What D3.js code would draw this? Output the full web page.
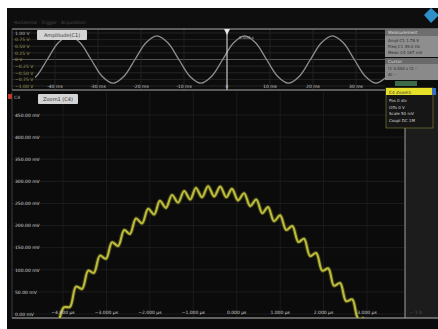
<!DOCTYPE html>
<meta charset="utf-8">
<style>
body { margin: 0; background: #fff; }
svg { display: block; font-family: "DejaVu Sans", sans-serif; }
</style>
<svg width="438" height="329"></svg>
<script src="https://cdn.jsdelivr.net/npm/d3@7"></script>
<script>

// overview (C1) – time in ms, amplitude in V
var overviewTicks = [-40, -30, -20, -10, 0, 10, 20, 30];
var overviewLevels = [1, 0.75, 0.5, 0.25, 0, -0.25, -0.5, -0.75, -1];
var overviewTime = [-46.9, -44.35, -41.8, -39.25, -36.7, -34.15, -31.6, -29.05, -26.5, -23.95,
  -21.4, -18.85, -16.3, -13.75, -11.2, -8.65, -6.1, -3.55, -1.0, 1.55, 4.1, 6.65, 9.2,
  11.75, 14.3, 16.85, 19.4, 21.95, 24.5, 27.05, 29.6, 32.15, 34.7, 37.25];
var overviewAmp = [-0.89, -0.63, 0, 0.63, 0.89, 0.63, 0, -0.63, -0.89, -0.63,
  0, 0.63, 0.89, 0.63, 0, -0.63, -0.89, -0.63, 0, 0.63, 0.89, 0.63, 0,
  -0.63, -0.89, -0.63, 0, 0.63, 0.89, 0.63, 0, -0.63, -0.89, -0.63];

// zoom window (C4) – time in µs, level in mV
var zoomTicks = [-4, -3, -2, -1, 0, 1, 2, 3];
var zoomLevels = [450, 400, 350, 300, 250, 200, 150, 100, 50, 0];
var zoomTime = [-4.12, -3.98, -3.84, -3.70, -3.56, -3.42, -3.29, -3.15, -3.01, -2.87,
  -2.73, -2.59, -2.46, -2.32, -2.18, -2.04, -1.90, -1.77, -1.63, -1.49,
  -1.35, -1.21, -1.07, -0.94, -0.80, -0.66, -0.52, -0.38, -0.24, -0.11,
  0.03, 0.17, 0.31, 0.45, 0.59, 0.72, 0.86, 1.00, 1.14, 1.28,
  1.42, 1.55, 1.69, 1.83, 1.97, 2.11, 2.24, 2.38, 2.52, 2.66, 2.80, 2.94];
var zoomMv = [-34, 15, 16, 62, 57, 98, 93, 132, 125, 162,
  154, 190, 181, 216, 205, 238, 225, 256, 240, 269,
  252, 278, 259, 285, 264, 289, 266, 288, 264, 283,
  257, 273, 244, 259, 228, 242, 210, 223, 190, 199,
  163, 170, 131, 138, 98, 103, 64, 70, 29, 33, -11, -9];

var svg = d3.select("svg");

svg.append("rect").attr("x", 7).attr("y", 8).attr("width", 431).attr("height", 321).attr("fill", "#0b0b0b");
svg.append("rect").attr("x", 7).attr("y", 8).attr("width", 431).attr("height", 20).attr("fill", "#0e0e0e");
svg.append("text").attr("x", 14).attr("y", 24).attr("font-size", 4.5).attr("fill", "#4a4a4a")
  .text("Horizontal  ·  Trigger  ·  Acquisition");
svg.append("path").attr("d", "M431,8 L439,15 L431,23 L424,15 Z").attr("fill", "#2f8fc8");

// ---------- overview panel ----------
var xTop = d3.scaleLinear().domain([-40, 30]).range([55, 356]);
var yTop = d3.scaleLinear().domain([-1, 1]).range([86, 33]);

var overview = svg.append("g");
overview.append("rect").attr("x", 12).attr("y", 29).attr("width", 373).attr("height", 61).attr("fill", "#0c0c0c");

overview.selectAll(".hg").data(overviewLevels).enter().append("line")
  .attr("x1", 12).attr("x2", 385)
  .attr("y1", d => yTop(d)).attr("y2", d => yTop(d))
  .attr("stroke", d => d === 0 ? "#6a6a6a" : "#2c2c2c").attr("stroke-width", 0.8);
overview.selectAll(".vg").data(overviewTicks).enter().append("line")
  .attr("x1", d => xTop(d)).attr("x2", d => xTop(d))
  .attr("y1", 29).attr("y2", 90)
  .attr("stroke", "#262626").attr("stroke-width", 0.8);
overview.append("line").attr("x1", 12).attr("x2", 438).attr("y1", 29).attr("y2", 29).attr("stroke", "#b0b0b0").attr("stroke-width", 1);
overview.append("line").attr("x1", 12).attr("x2", 385).attr("y1", 90).attr("y2", 90).attr("stroke", "#a8a8a8").attr("stroke-width", 1);
overview.append("line").attr("x1", 12).attr("x2", 12).attr("y1", 29).attr("y2", 90).attr("stroke", "#555").attr("stroke-width", 0.8);

svg.append("clipPath").attr("id", "clipTop").append("rect")
  .attr("x", 35).attr("y", 29).attr("width", 350).attr("height", 61);

var overviewPts = overviewTime.map((t, i) => [t, overviewAmp[i]]);
overview.append("path").datum(overviewPts)
  .attr("clip-path", "url(#clipTop)")
  .attr("fill", "none").attr("stroke", "#8e8e8e").attr("stroke-width", 1.3)
  .attr("d", d3.line().x(d => xTop(d[0])).y(d => yTop(d[1])).curve(d3.curveCatmullRom));

overview.selectAll(".yl").data(overviewLevels).enter().append("text")
  .attr("x", 15).attr("y", d => yTop(d) + 1.8)
  .attr("font-size", 4.5).attr("fill", d => d === 1 ? "#bdbdbd" : "#9a9a52")
  .text(d => d === 0 ? "0 V" : d3.format(".2f")(d) + " V");

overview.selectAll(".xl").data(overviewTicks).enter().append("text")
  .attr("x", d => xTop(d)).attr("y", 88).attr("text-anchor", "middle")
  .attr("font-size", 4.5).attr("fill", "#c8c8c8")
  .text(d => d === 0 ? "0" : d + " ms");

overview.append("rect").attr("x", 37).attr("y", 30).attr("width", 50).attr("height", 10).attr("rx", 1).attr("fill", "#d4d4d4");
overview.append("text").attr("x", 62).attr("y", 37).attr("text-anchor", "middle").attr("font-size", 5).attr("fill", "#333").text("Amplitude(C1)");

// cursor at t = 0
overview.append("line").attr("x1", xTop(0)).attr("x2", xTop(0)).attr("y1", 30).attr("y2", 90).attr("stroke", "#e0e0e0").attr("stroke-width", 1);
overview.append("path").attr("d", `M${xTop(0) - 3},29 L${xTop(0) + 3},29 L${xTop(0)},35 Z`).attr("fill", "#e8e8e8");
overview.append("text").attr("x", xTop(0) + 12).attr("y", 39).attr("font-size", 4).attr("fill", "#bbb").text("0.000 s");

// measurement side panel
var side = svg.append("g");
side.append("rect").attr("x", 385).attr("y", 29).attr("width", 53).attr("height", 7).attr("fill", "#6e6e6e");
side.append("text").attr("x", 388).attr("y", 34).attr("font-size", 4.3).attr("fill", "#ddd").text("Measurement");
side.append("rect").attr("x", 385).attr("y", 36).attr("width", 53).attr("height", 21).attr("fill", "#8e8e8e");
["Ampl  C1   1.78 V", "Freq  C1   49.0 Hz", "Mean  C4   187 mV"].forEach(function (s, i) {
  side.append("text").attr("x", 388).attr("y", 42 + i * 6).attr("font-size", 4).attr("fill", "#2a2a2a").text(s);
});
side.append("rect").attr("x", 385).attr("y", 58).attr("width", 53).attr("height", 6).attr("fill", "#6a6a6a");
side.append("text").attr("x", 388).attr("y", 62.5).attr("font-size", 4.3).attr("fill", "#ddd").text("Cursor");
side.append("rect").attr("x", 385).attr("y", 64).attr("width", 53).attr("height", 16).attr("fill", "#8a8a8a");
["t1  0.000 s   t2  --", "Δt  --"].forEach(function (s, i) {
  side.append("text").attr("x", 388).attr("y", 70 + i * 6).attr("font-size", 4).attr("fill", "#2a2a2a").text(s);
});
side.append("rect").attr("x", 395).attr("y", 81).attr("width", 22).attr("height", 5).attr("fill", "#3c6a4a");

// ---------- zoom panel ----------
var xZoom = d3.scaleLinear().domain([-4, 3]).range([63, 367]);
var yZoom = d3.scaleLinear().domain([0, 450]).range([314, 115]);

var bot = svg.append("g");
bot.append("rect").attr("x", 405).attr("y", 92).attr("width", 33).attr("height", 226).attr("fill", "#1c1c1c");

bot.selectAll(".hg").data(zoomLevels).enter().append("line")
  .attr("x1", 12).attr("x2", 405)
  .attr("y1", d => yZoom(d)).attr("y2", d => yZoom(d))
  .attr("stroke", "#222").attr("stroke-width", 0.8);
bot.selectAll(".vg").data(zoomTicks).enter().append("line")
  .attr("x1", d => xZoom(d)).attr("x2", d => xZoom(d))
  .attr("y1", 92).attr("y2", 318)
  .attr("stroke", "#1f1f1f").attr("stroke-width", 0.8);
bot.append("line").attr("x1", 12).attr("x2", 12).attr("y1", 92).attr("y2", 318).attr("stroke", "#4a4a4a").attr("stroke-width", 0.8);
bot.append("line").attr("x1", 405).attr("x2", 405).attr("y1", 90).attr("y2", 318).attr("stroke", "#a0a0a0").attr("stroke-width", 1);
bot.append("line").attr("x1", 12).attr("x2", 438).attr("y1", 318).attr("y2", 318).attr("stroke", "#b8b8b8").attr("stroke-width", 1);

svg.append("clipPath").attr("id", "clipZoom").append("rect")
  .attr("x", 12).attr("y", 92).attr("width", 393).attr("height", 226);

var zoomPts = zoomTime.map((t, i) => [t, zoomMv[i]]);
var zline = d3.line().x(d => xZoom(d[0])).y(d => yZoom(d[1])).curve(d3.curveCatmullRom);
bot.append("path").datum(zoomPts).attr("clip-path", "url(#clipZoom)")
  .attr("fill", "none").attr("stroke", "#6f6f22").attr("stroke-width", 4.2).attr("stroke-opacity", 0.5)
  .attr("stroke-linejoin", "round").attr("d", zline);
bot.append("path").datum(zoomPts).attr("clip-path", "url(#clipZoom)")
  .attr("fill", "none").attr("stroke", "#bcbc3c").attr("stroke-width", 2.1)
  .attr("stroke-linejoin", "round").attr("d", zline);

bot.selectAll(".yl").data(zoomLevels).enter().append("text")
  .attr("x", 15).attr("y", d => yZoom(d) + 1.8)
  .attr("font-size", 4.5).attr("fill", "#cfcfcf")
  .text(d => d3.format(".2f")(d) + " mV");

bot.selectAll(".xl").data(zoomTicks).enter().append("text")
  .attr("x", d => xZoom(d)).attr("y", 314).attr("text-anchor", "middle")
  .attr("font-size", 4.5).attr("fill", "#cfcfcf")
  .text(d => d3.format(".3f")(d) + " µs");

bot.append("text").attr("x", 410).attr("y", 314).attr("font-size", 4.5).attr("fill", "#555").text("-- 1.0");

bot.append("rect").attr("x", 8).attr("y", 94).attr("width", 4).attr("height", 5).attr("fill", "#c0392b");
bot.append("text").attr("x", 14).attr("y", 99).attr("font-size", 4.5).attr("fill", "#bbb").text("C4");
bot.append("rect").attr("x", 38).attr("y", 94).attr("width", 40).attr("height", 10).attr("rx", 1).attr("fill", "#d4d4d4");
bot.append("text").attr("x", 58).attr("y", 101).attr("text-anchor", "middle").attr("font-size", 5).attr("fill", "#333").text("Zoom1 (C4)");

// channel info box
bot.append("rect").attr("x", 386).attr("y", 88).attr("width", 47).attr("height", 40).attr("fill", "#161616").attr("stroke", "#8a8a3a").attr("stroke-width", 0.6);
bot.append("rect").attr("x", 386).attr("y", 88).attr("width", 46).attr("height", 7).attr("fill", "#e6e02a");
bot.append("rect").attr("x", 432).attr("y", 88).attr("width", 4).attr("height", 7).attr("fill", "#3a6ec0");
bot.append("text").attr("x", 389).attr("y", 93.5).attr("font-size", 4.3).attr("fill", "#333").text("C4  Zoom1");
["Pos  0 div", "Offs  0 V", "Scale  50 mV", "Coupl  DC 1M"].forEach(function (s, i) {
  bot.append("text").attr("x", 389).attr("y", 102 + i * 6.5).attr("font-size", 4).attr("fill", "#d8d8d8").text(s);
});

</script>
